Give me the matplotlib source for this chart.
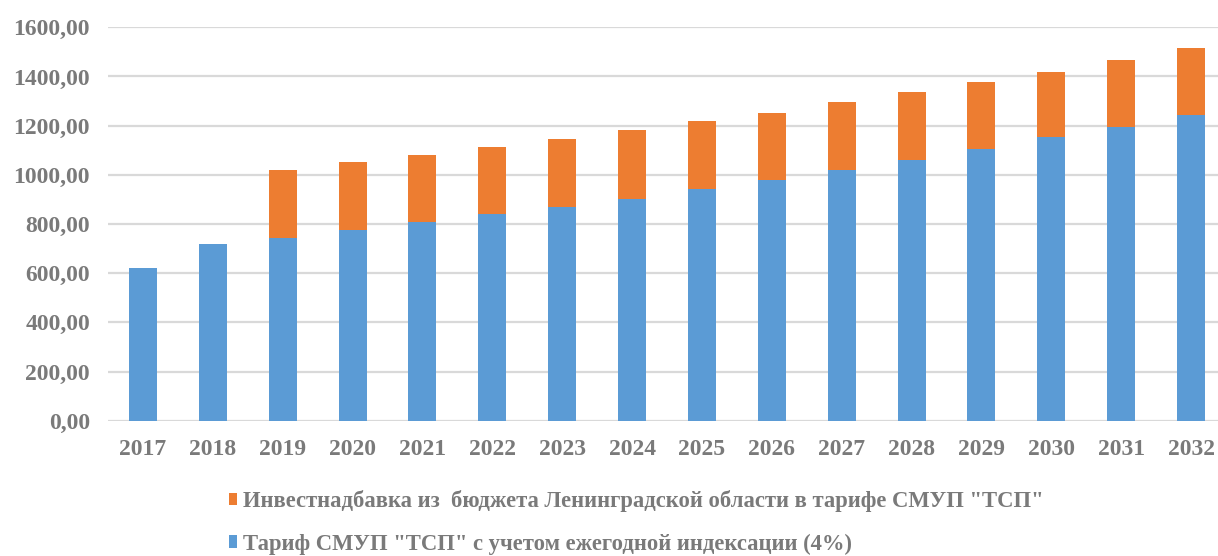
import matplotlib
matplotlib.use("Agg")
import matplotlib.pyplot as plt
from matplotlib.ticker import FuncFormatter

years = ["2017", "2018", "2019", "2020", "2021", "2022", "2023", "2024",
         "2025", "2026", "2027", "2028", "2029", "2030", "2031", "2032"]
tariff = [620, 720, 744, 775, 807, 839, 869, 902, 941, 979, 1021, 1060, 1104, 1152, 1194, 1243]
invest = [0, 0, 276, 277, 274, 274, 278, 282, 277, 274, 275, 278, 272, 267, 273, 273]

label_invest = 'Инвестнадбавка из  бюджета Ленинградской области в тарифе СМУП "ТСП"'
label_tariff = 'Тариф СМУП "ТСП" с учетом ежегодной индексации (4%)'

BLUE = "#5b9bd5"
ORANGE = "#ed7d31"
TXT = "#7a7a7a"
GRID = "#d9d9d9"

plt.rcParams['font.family'] = ['Liberation Serif', 'DejaVu Serif']
plt.rcParams['font.weight'] = 'bold'

W, H = 1218, 556
fig = plt.figure(figsize=(W / 100, H / 100), dpi=100)
left, right = 108 / W, 1226 / W
bottom, top = (H - 420.7) / H, (H - 27.3) / H
ax = fig.add_axes([left, bottom, right - left, top - bottom])

x = list(range(len(years)))
b1 = ax.bar(x, tariff, width=0.4, color=BLUE, zorder=3, label=label_tariff)
b2 = ax.bar(x, invest, width=0.4, bottom=tariff, color=ORANGE, zorder=3, label=label_invest)

ax.set_xlim(-0.5, len(years) - 0.5)
ax.set_ylim(0, 1600)
ax.set_yticks(range(0, 1601, 200))
ax.yaxis.set_major_formatter(FuncFormatter(lambda v, p: f"{v:.2f}".replace(".", ",")))
ax.set_xticks(x)
ax.set_xticklabels(years)
ax.grid(axis='y', color=GRID, linewidth=1.6, zorder=0)
ax.set_axisbelow(True)
for s in ax.spines.values():
    s.set_visible(False)
ax.tick_params(axis='both', length=0, labelsize=17, labelcolor=TXT)
ax.tick_params(axis='y', pad=13)
ax.tick_params(axis='x', pad=13)

leg = fig.legend(handles=[b2, b1], labels=[label_invest, label_tariff],
                 loc='upper left', bbox_to_anchor=(229 / W, 1 - 490 / H),
                 ncol=1, frameon=False, fontsize=16.3, labelcolor=TXT,
                 handlelength=0.37, handleheight=0.5, handletextpad=0.25,
                 labelspacing=0.95, borderaxespad=0, borderpad=0)

fig.savefig("out.png", dpi=100)
